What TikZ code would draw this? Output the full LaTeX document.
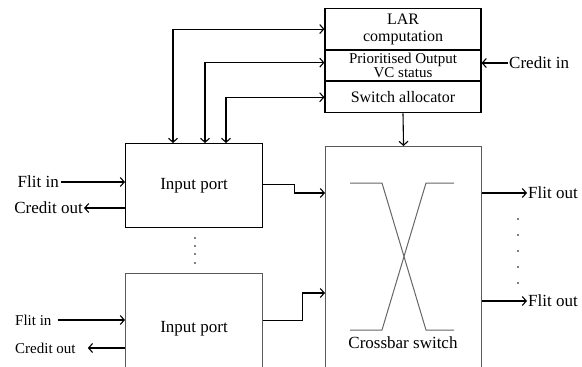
\documentclass[tikz,border=0pt]{standalone}
\usepackage{fontspec}
\setmainfont{Liberation Serif}
\usetikzlibrary{positioning,arrows.meta}

\tikzset{
  unit/.style={draw, line width=1.1pt, inner sep=0pt, align=center,
    font=\fontsize{17}{19}\selectfont},
  lbl/.style={inner sep=1pt, font=\fontsize{17}{19}\selectfont},
  small/.style={inner sep=1pt, font=\fontsize{15}{17}\selectfont},
  wire/.style={line width=1.1pt},
  xbar/.style={line width=1pt, gray!80!black},
}

\begin{document}
\begin{tikzpicture}[x=1pt, y=-1pt, >={Straight Barb[length=4pt,width=9pt]}]
  \useasboundingbox (0,0) rectangle (582,367);
  \clip (0,0) rectangle (582,367);
  % allocator stack
  \node (lar) [unit, minimum width=156pt, minimum height=41pt, anchor=north,
    font=\fontsize{16}{17}\selectfont] at (403,8) {LAR\\computation};
  \node (vcs) [unit, minimum width=156pt, minimum height=30pt, below=0pt of lar,
    font=\fontsize{15}{14}\selectfont] {Prioritised Output\\VC status};
  \node (swalloc) [unit, minimum width=156pt, minimum height=31pt, below=0pt of vcs,
    font=\fontsize{16}{18}\selectfont] {Switch allocator};
  % ports and crossbar
  \node (inport1) [unit, minimum width=137pt, minimum height=84pt, anchor=north west]
    at (125,143) {Input port};
  \node (inport2) [unit, draw=gray!70!black, minimum width=137pt, minimum height=110pt,
    anchor=north west] at (125,273) {Input port};
  \node (crossbar) [unit, draw=gray!70!black, minimum width=156pt, minimum height=240pt,
    anchor=north west] at (325,146) {};
  \node (xlabel) [lbl] at (403,343) {Crossbar switch};
  \draw[xbar] (350,183) -- (382,183) -- (426,330) -- (454,330);
  \draw[xbar] (350,330) -- (382,330) -- (426,183) -- (454,183);
  % side labels
  \node (flitin1) [lbl, anchor=east] at (60,182) {Flit in};
  \node (creditout1) [lbl, anchor=east] at (84,208) {Credit out};
  \node (flitin2) [small, anchor=west] at (14,320) {Flit in};
  \node (creditout2) [small, anchor=west] at (14,348) {Credit out};
  \node (creditin) [lbl, anchor=west] at (508,63) {Credit in};
  \node (flitout1) [lbl, anchor=west] at (527,193) {Flit out};
  \node (flitout2) [lbl, anchor=west] at (527,301) {Flit out};
  \coordinate (xin1) at (325,193);
  \coordinate (xin2) at (325,293);
  % control lines
  \draw[wire,<->] ([xshift=48pt]inport1.north west) |- (lar.west);
  \draw[wire,<->] ([xshift=80pt]inport1.north west) |- ([yshift=3pt]vcs.west);
  \draw[wire,<->] ([xshift=101pt]inport1.north west) |- (swalloc.west);
  \draw[wire,->] (creditin.west) -- (creditin.west -| vcs.east);
  \draw[wire,->] (swalloc.south) -- (crossbar.north);
  % data lines
  \draw[wire,->] ([xshift=1pt]flitin1.east) -- (flitin1.east -| inport1.west);
  \draw[wire,->] (creditout1.east -| inport1.west) -- (creditout1.east);
  \draw[wire,->] ([xshift=5pt]flitin2.east) -- (flitin2.east -| inport2.west);
  \draw[wire,->] (creditout2.east -| inport2.west) -- ([xshift=11pt]creditout2.east);
  \draw[wire,->] ([yshift=1pt]inport1.east) -- ++(31,0) |- (xin1);
  \draw[wire,->] ([yshift=8pt]inport2.east) -- ++(39,0) |- (xin2);
  \draw[wire,->] (crossbar.east |- flitout1.west) -- (flitout1.west);
  \draw[wire,->] (crossbar.east |- flitout2.west) -- (flitout2.west);
  % dots
  \foreach \y in {238,246,254,263}
    \fill (195,\y) circle (0.9);
  \foreach \y in {219,235,251,267,283}
    \fill (518,\y) circle (0.9);
\end{tikzpicture}
\end{document}
